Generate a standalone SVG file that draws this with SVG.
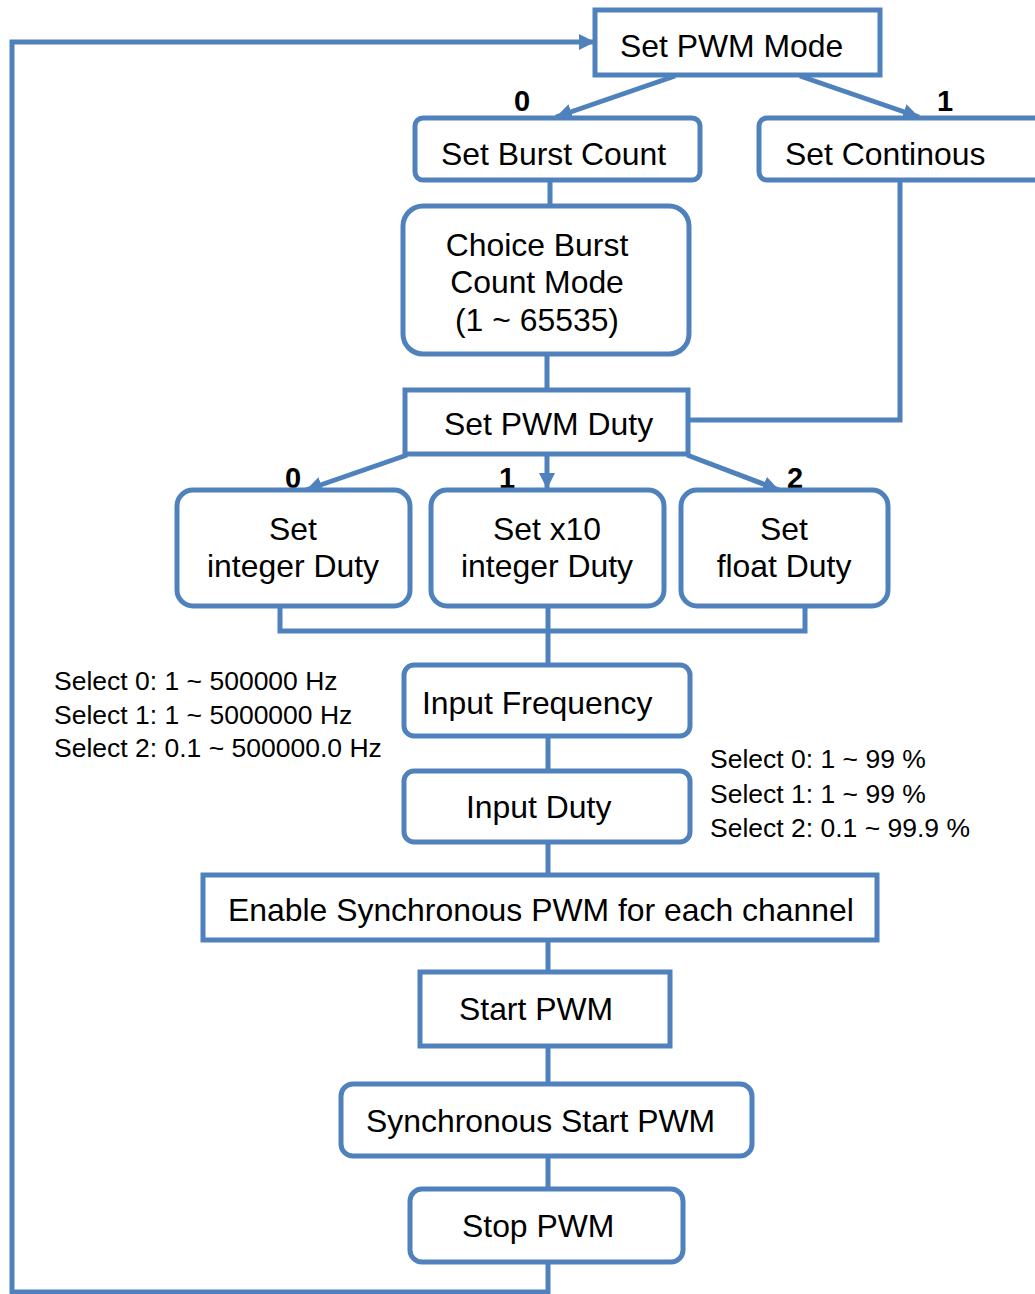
<svg xmlns="http://www.w3.org/2000/svg" width="1035" height="1294" viewBox="0 0 1035 1294">
<defs>
<marker id="arr" markerUnits="userSpaceOnUse" markerWidth="20" markerHeight="20" refX="16" refY="8" orient="auto">
<path d="M0,0 L16,8 L0,16 Z" fill="#4F81BD"/>
</marker>
<style>
.box{fill:#fff;stroke:#4F81BD;stroke-width:5}
.ln{fill:none;stroke:#4F81BD;stroke-width:5}
.t{font-family:"Liberation Sans",Arial,sans-serif;font-size:31.9px;fill:#000}
.c{text-anchor:middle}
.s{font-family:"Liberation Sans",Arial,sans-serif;font-size:26.5px;fill:#000}
.b{font-family:"Liberation Sans",Arial,sans-serif;font-size:29px;font-weight:bold;fill:#000;text-anchor:middle}
</style>
</defs>
<rect width="1035" height="1294" fill="#fff"/>
<g id="connectors">
<path class="ln" d="M548,1262 V1292 H12 V42 H595" marker-end="url(#arr)"/>
<path class="ln" d="M675,76 L556,117" marker-end="url(#arr)"/>
<path class="ln" d="M800,76 L919,117" marker-end="url(#arr)"/>
<path class="ln" d="M550,180 V206"/>
<path class="ln" d="M900,180 V420 H688"/>
<path class="ln" d="M547,354 V390"/>
<path class="ln" d="M407,455 L306,490" marker-end="url(#arr)"/>
<path class="ln" d="M547,455 V489" marker-end="url(#arr)"/>
<path class="ln" d="M687,455 L779,490" marker-end="url(#arr)"/>
<path class="ln" d="M280,606 V631 H805 V606"/>
<path class="ln" d="M548,606 V665"/>
<path class="ln" d="M548,736 V771"/>
<path class="ln" d="M548,842 V875"/>
<path class="ln" d="M548,940 V972"/>
<path class="ln" d="M548,1046 V1084"/>
<path class="ln" d="M548,1156 V1189"/>
<text class="b" x="522" y="111">0</text>
<text class="b" x="945" y="111">1</text>
<text class="b" x="293" y="488">0</text>
<text class="b" x="507" y="488">1</text>
<text class="b" x="795" y="488">2</text>
</g>
<g id="set-pwm-mode">
<rect class="box" x="595" y="10" width="285" height="65"/>
<text class="t" x="620" y="57">Set PWM Mode</text>
</g>
<g id="set-burst-count">
<rect class="box" x="415" y="118" width="285" height="62" rx="8"/>
<text class="t" x="441" y="165">Set Burst Count</text>
</g>
<g id="set-continous">
<rect class="box" x="759" y="118" width="300" height="62" rx="8"/>
<text class="t" x="785" y="165">Set Continous</text>
</g>
<g id="choice-burst">
<rect class="box" x="403" y="206" width="286" height="148" rx="20"/>
<text class="t c" x="537" y="256">Choice Burst</text>
<text class="t c" x="537" y="293">Count Mode</text>
<text class="t c" x="537" y="331">(1 ~ 65535)</text>
</g>
<g id="set-pwm-duty">
<rect class="box" x="405" y="390" width="283" height="64"/>
<text class="t" x="444" y="435">Set PWM Duty</text>
</g>
<g id="set-integer-duty">
<rect class="box" x="177" y="490" width="233" height="116" rx="16"/>
<text class="t c" x="293" y="540">Set</text>
<text class="t c" x="293" y="577">integer Duty</text>
</g>
<g id="set-x10-duty">
<rect class="box" x="431" y="490" width="233" height="116" rx="16"/>
<text class="t c" x="547" y="540">Set x10</text>
<text class="t c" x="547" y="577">integer Duty</text>
</g>
<g id="set-float-duty">
<rect class="box" x="681" y="490" width="207" height="116" rx="16"/>
<text class="t c" x="784" y="540">Set</text>
<text class="t c" x="784" y="577">float Duty</text>
</g>
<g id="freq-notes">
<text class="s" x="54" y="690">Select 0: 1 ~ 500000 Hz</text>
<text class="s" x="54" y="724">Select 1: 1 ~ 5000000 Hz</text>
<text class="s" x="54" y="757">Select 2: 0.1 ~ 500000.0 Hz</text>
</g>
<g id="input-frequency">
<rect class="box" x="404" y="665" width="286" height="71" rx="10"/>
<text class="t" x="422" y="714">Input Frequency</text>
</g>
<g id="duty-notes">
<text class="s" x="710" y="768">Select 0: 1 ~ 99 %</text>
<text class="s" x="710" y="803">Select 1: 1 ~ 99 %</text>
<text class="s" x="710" y="837">Select 2: 0.1 ~ 99.9 %</text>
</g>
<g id="input-duty">
<rect class="box" x="404" y="771" width="286" height="71" rx="10"/>
<text class="t" x="466" y="818">Input Duty</text>
</g>
<g id="enable-sync">
<rect class="box" x="203" y="875" width="674" height="65"/>
<text class="t" x="228" y="921">Enable Synchronous PWM for each channel</text>
</g>
<g id="start-pwm">
<rect class="box" x="420" y="972" width="250" height="74"/>
<text class="t" x="459" y="1020">Start PWM</text>
</g>
<g id="sync-start-pwm">
<rect class="box" x="341" y="1084" width="411" height="72" rx="12"/>
<text class="t" x="366" y="1132">Synchronous Start PWM</text>
</g>
<g id="stop-pwm">
<rect class="box" x="410" y="1189" width="273" height="73" rx="12"/>
<text class="t" x="462" y="1237">Stop PWM</text>
</g>
</svg>
